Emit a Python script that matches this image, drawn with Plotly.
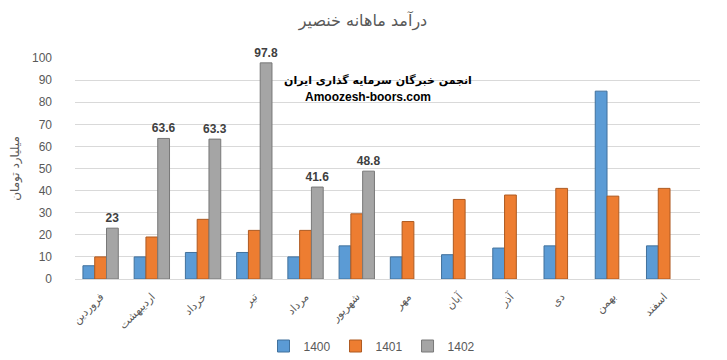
import plotly.graph_objects as go

months = ["فروردین", "اردیبهشت", "خرداد", "تیر", "مرداد", "شهریور",
          "مهر", "آبان", "آذر", "دی", "بهمن", "اسفند"]
s1400 = [6, 10, 12, 12, 10, 15, 10, 11, 14, 15, 85, 15]
s1401 = [10, 19, 27, 22, 22, 29.5, 26, 36, 38, 41, 37.5, 41]
s1402 = [23, 63.6, 63.3, 97.8, 41.6, 48.8, None, None, None, None, None, None]

series = [("1400", s1400, "#5B9BD5", "#41719C"),
          ("1401", s1401, "#ED7D31", "#AE5A21"),
          ("1402", s1402, "#A5A5A5", "#787878")]

fig = go.Figure()
x = list(range(len(months)))
for name, vals, col, edge in series:
    kw = {}
    if name == "1402":
        kw = dict(text=[None if v is None else f"<b>{v:g}</b>" for v in vals],
                  textposition="outside", cliponaxis=False, constraintext="none",
                  textfont=dict(size=12, color="#404040", family="Liberation Sans, Arial"))
    fig.add_trace(go.Bar(x=x, y=vals, name=name,
                         marker=dict(color=col, line=dict(color=edge, width=1)),
                         **kw))

# page body has an 8px margin; figure is sized/positioned to compensate
OFF = 8
W, H = 727 - OFF, 360 - OFF
L, R, T, B = 75 - OFF, 27, 58 - OFF, 81
fig.update_layout(
    width=W, height=H,
    barmode="group", bargap=0.31, bargroupgap=0,
    paper_bgcolor="white", plot_bgcolor="white",
    margin=dict(l=L, r=R, t=T, b=B, autoexpand=False),
    font=dict(family="DejaVu Sans, Liberation Sans, Arial", color="#595959", size=12),
    title=dict(text="درآمد ماهانه خنصیر", x=(363 - OFF) / W, xanchor="center",
               y=1 - (20 - OFF) / H, yanchor="middle",
               font=dict(size=16, color="#595959", family="DejaVu Sans")),
    showlegend=True,
    legend=dict(orientation="h", xref="container", yref="container",
                x=(372 - OFF) / W, xanchor="center", y=1 - (346 - OFF) / H, yanchor="middle",
                font=dict(size=12, color="#595959", family="Liberation Sans, Arial"),
                traceorder="normal"),
    xaxis=dict(tickmode="array", tickvals=x, ticktext=months, tickangle=-45,
               range=[-0.5, 11.7], showgrid=False, showline=True, linecolor="#D9D9D9",
               tickfont=dict(size=11, color="#595959", family="DejaVu Sans"), ticks="",
               automargin=False, ticklabelstandoff=6),
    yaxis=dict(range=[0, 100], dtick=10, showgrid=True, gridcolor="#D9D9D9",
               zeroline=False, ticks="", automargin=False, ticklabelstandoff=22,
               tickfont=dict(size=12, color="#595959", family="Liberation Sans, Arial"),
               title=dict(text="میلیارد تومان", font=dict(size=12, color="#595959",
                                                          family="DejaVu Sans"), standoff=10)),
)
pw, ph = W - L - R, H - T - B
def px(xp, yp):
    return (xp - OFF - L) / pw, (H - B - (yp - OFF)) / ph
ax1, ay1 = px(378, 72)
ax2, ay2 = px(368, 88)
fig.add_annotation(text="<b>انجمن خبرگان سرمایه گذاری ایران</b>", x=ax1, y=ay1,
                   xref="paper", yref="paper", showarrow=False,
                   font=dict(size=11, color="black", family="DejaVu Sans"))
fig.add_annotation(text="<b>Amoozesh-boors.com</b>", x=ax2, y=ay2,
                   xref="paper", yref="paper", showarrow=False,
                   font=dict(size=12, color="black", family="Liberation Sans, Arial"))

fig.write_html("out.html")
